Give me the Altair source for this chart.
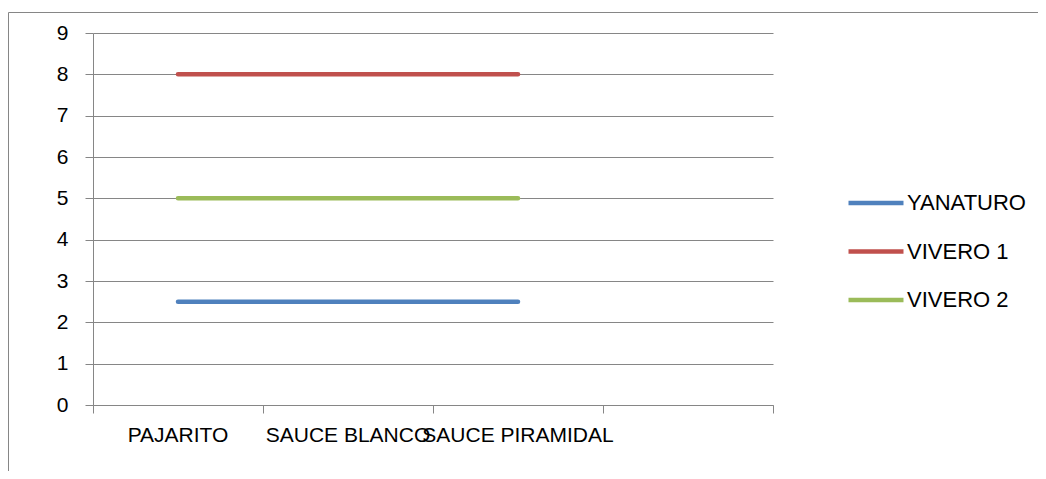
import altair as alt
import pandas as pd

# ---- data -------------------------------------------------------------
categories = ["PAJARITO", "SAUCE BLANCO", "SAUCE PIRAMIDAL"]
series = ["YANATURO", "VIVERO 1", "VIVERO 2"]
yanaturo = [2.5, 2.5, 2.5]
vivero1 = [8, 8, 8]
vivero2 = [5, 5, 5]
colors = ["#4F81BD", "#C0504D", "#9BBB59"]
n_slots = 4  # the category axis has an empty fourth slot
y_ticks = list(range(0, 10))

series_values = dict(zip(series, [yanaturo, vivero1, vivero2]))
rows = []
for s in series:
    for i, c in enumerate(categories):
        rows.append({"series": s, "category": c, "pos": i + 0.5,
                     "value": series_values[s][i]})
df = pd.DataFrame(rows)
labels_df = pd.DataFrame({"category": categories,
                          "pos": [i + 0.5 for i in range(len(categories))]})

# ---- styling ----------------------------------------------------------
W, H = 680, 372
FONT = "Liberation Sans"
GRID = "#868686"

x_scale = alt.Scale(domain=[0, n_slots], nice=False, zero=False)
y_scale = alt.Scale(domain=[0, 9], nice=False)

frame = alt.Chart(pd.DataFrame({"k": [0]})).mark_rect(
    fill="transparent", stroke=GRID, strokeWidth=1, clip=False
).encode(x=alt.value(-84.5), x2=alt.value(2000),
         y=alt.value(-20.5), y2=alt.value(2000))

lines = alt.Chart(df).mark_line(strokeWidth=4.5, strokeCap="round").encode(
    x=alt.X("pos:Q", scale=x_scale,
            axis=alt.Axis(values=list(range(n_slots + 1)), labels=False,
                          ticks=True, tickSize=8, grid=False, title=None,
                          domainColor=GRID, tickColor=GRID)),
    y=alt.Y("value:Q", scale=y_scale,
            axis=alt.Axis(values=y_ticks, tickSize=8, labelPadding=17,
                          grid=True, gridColor=GRID, gridOpacity=1,
                          domainColor=GRID, tickColor=GRID, title=None,
                          labelFont=FONT, labelFontSize=21,
                          labelColor="black")),
    color=alt.Color("series:N", scale=alt.Scale(domain=series, range=colors),
                    legend=alt.Legend(title=None, orient="none",
                                      legendX=767, legendY=154,
                                      symbolType="M-2,0H2", symbolSize=756,
                                      symbolStrokeWidth=4.5,
                                      labelFont=FONT, labelFontSize=22,
                                      labelColor="black", labelOffset=15,
                                      rowPadding=21.5, padding=0)),
)

text = alt.Chart(labels_df).mark_text(
    fontSize=21, font=FONT, baseline="middle", align="center", color="black"
).encode(x=alt.X("pos:Q", scale=x_scale), y=alt.value(H + 31),
         text="category:N")

chart = alt.layer(frame, lines, text).properties(
    width=W, height=H,
    autosize=alt.AutoSizeParams(type="none"),
    padding={"left": 85, "top": 25, "right": 265, "bottom": 66},
).configure_view(stroke=None)

chart.save("out.html", embed_options={"renderer": "svg", "actions": False})
